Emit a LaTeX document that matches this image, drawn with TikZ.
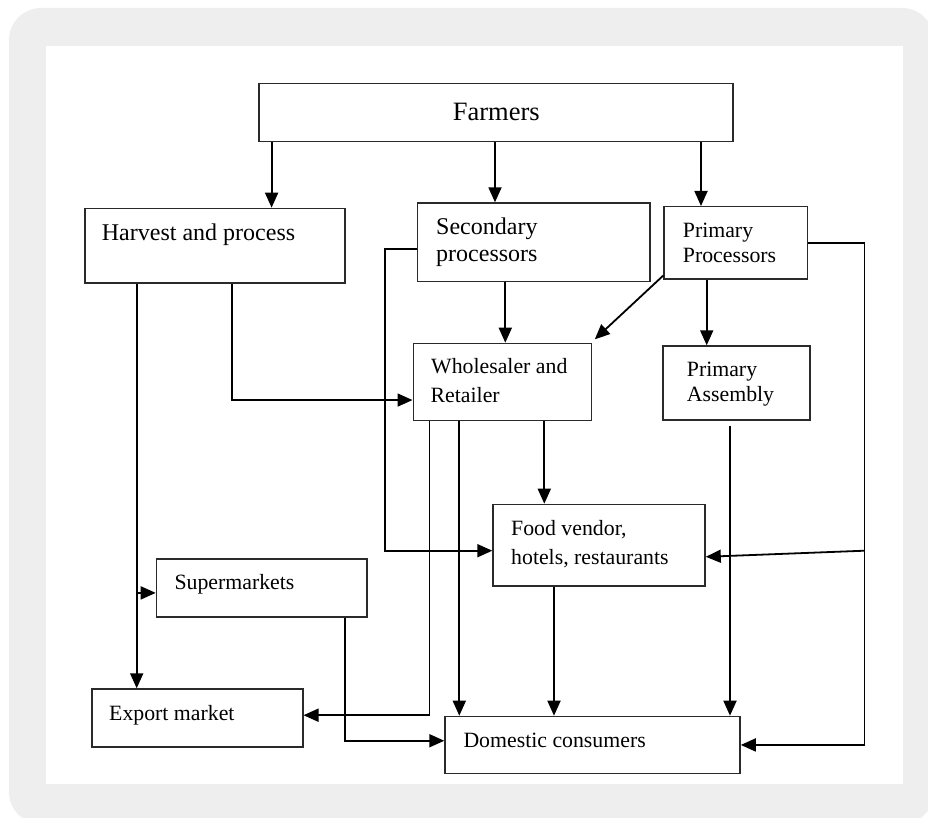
\documentclass[tikz,border=0pt]{standalone}
\usepackage{fontspec}
\setmainfont{Liberation Serif}
\usetikzlibrary{arrows.meta}
\definecolor{bggray}{HTML}{EEEEEE}
\definecolor{boxline}{HTML}{2A2A2A}
\tikzset{
  box/.style={draw=boxline, line width=1.5pt, fill=white, inner sep=0pt, anchor=north west},
  arr/.style={line width=1.8pt, -{Triangle[length=15pt,width=13pt]}},
  conn/.style={line width=1.8pt},
  txt/.style={inner sep=0pt, anchor=base west, font=\fontsize{21.8}{26}\selectfont},
  txtbig/.style={inner sep=0pt, anchor=base west, font=\fontsize{24}{28}\selectfont},
  txthuge/.style={inner sep=0pt, anchor=base west, font=\fontsize{26.5}{30}\selectfont}
}
\begin{document}
\begin{tikzpicture}[x=1pt,y=-1pt]
\clip (0,0) rectangle (928,818);
\useasboundingbox (0,0) rectangle (928,818);
\fill[bggray, rounded corners=32pt] (9,8) rectangle (934,824);
\fill[white] (46,45.7) rectangle (903.3,784.3);

% boxes
\node[box, minimum width=474pt, minimum height=58pt] (farm) at (258,83) {};
\node[box, minimum width=259.7pt, minimum height=74.6pt] (harv) at (84.3,207.7) {};
\node[box, minimum width=232.6pt, minimum height=78.4pt] (sec) at (416.7,202.3) {};
\node[box, minimum width=143.4pt, minimum height=72.3pt] (pp) at (663.3,206) {};
\node[box, minimum width=178.2pt, minimum height=76.8pt] (ws) at (412.5,342.7) {};
\node[box, minimum width=147.3pt, minimum height=74pt] (pa) at (662,345.3) {};
\node[box, minimum width=212pt, minimum height=81.3pt] (food) at (492.3,503.7) {};
\node[box, minimum width=210.3pt, minimum height=57.7pt] (sup) at (155.7,558.3) {};
\node[box, minimum width=211pt, minimum height=57.7pt] (exp) at (91,688.3) {};
\node[box, minimum width=295pt, minimum height=57pt] (dom) at (444.3,715.7) {};

% texts
\node[txthuge] (farm-t) at (452.7,120.7) {Farmers};
\node[txtbig] (harv-t) at (101.7,240.7) {Harvest and process};
\node[txtbig] (sec-t1) at (436,234.3) {Secondary};
\node[txtbig] (sec-t2) at (436,261.7) {processors};
\node[txt] (pp-t1) at (682.7,237.3) {Primary};
\node[txt] (pp-t2) at (682.7,262.3) {Processors};
\node[txt] (ws-t1) at (431,373.3) {Wholesaler and};
\node[txt] (ws-t2) at (430.5,402.7) {Retailer};
\node[txt] (pa-t1) at (686.7,376.7) {Primary};
\node[txt] (pa-t2) at (686.7,401.7) {Assembly};
\node[txt] (food-t1) at (511,535) {Food vendor,};
\node[txt] (food-t2) at (511,564) {hotels, restaurants};
\node[txt] (sup-t) at (174.3,589.3) {Supermarkets};
\node[txt] (exp-t) at (109,720) {Export market};
\node[txt] (dom-t) at (463.3,747.7) {Domestic consumers};

% connectors from Farmers
\draw[arr] ([xshift=13.6pt]farm.south west) coordinate (a1) -- (a1 |- harv.north);
\draw[arr] ([xshift=237pt]farm.south west) coordinate (a2) -- (a2 |- sec.north);
\draw[arr] ([xshift=443pt]farm.south west) coordinate (a3) -- (a3 |- pp.north);

% Harvest and process
\draw[arr] ([xshift=147.4pt]harv.south west) |- ([yshift=-18.2pt]ws.west);
\draw[arr] ([xshift=52.4pt]harv.south west) coordinate (b2) -- (b2 |- exp.north);
\path ([yshift=-5pt]sup.west) coordinate (s1);
\draw[arr] (b2 |- s1) -- (s1);

% Secondary processors
\draw[arr] ([xshift=88.6pt]sec.south west) coordinate (c1) -- (c1 |- ws.north);
\draw[arr] ([yshift=-6.8pt]sec.west) -- ++(-31.7,0) |- ([yshift=-5.6pt]food.west);

% Primary processors
\draw[arr] ([yshift=4.3pt]pp.south west) -- ([xshift=2.6pt,yshift=3.4pt]ws.north east);
\draw[arr] ([xshift=43.4pt]pp.south west) coordinate (d1) -- (d1 |- pa.north);
\draw[conn] (pp.east) -- ++(56.3,0) coordinate (e1) -- (e1 |- dom.east);
\path ([yshift=-5.6pt]food.east) coordinate (f2);
\draw[arr] (e1 |- f2) -- ([yshift=-11.7pt]food.east);
\draw[arr] (e1 |- dom.east) -- (dom.east);

% Wholesaler and Retailer
\draw[arr] ([xshift=17pt]ws.south west) |- ([yshift=2.7pt]exp.east);
\draw[arr] ([xshift=46.8pt]ws.south west) coordinate (g2) -- (g2 |- dom.north);
\draw[arr] ([xshift=131.8pt]ws.south west) coordinate (g3) -- (g3 |- food.north);

% Primary Assembly
\draw[arr] ([xshift=68pt,yshift=-5pt]pa.south west) coordinate (h1) -- (h1 |- dom.north);

% Food vendor
\draw[arr] ([xshift=61.7pt]food.south west) coordinate (k1) -- (k1 |- dom.north);

% Supermarkets
\draw[arr] ([xshift=189.3pt]sup.south west) |- ([yshift=4.2pt]dom.west);
\end{tikzpicture}
\end{document}
